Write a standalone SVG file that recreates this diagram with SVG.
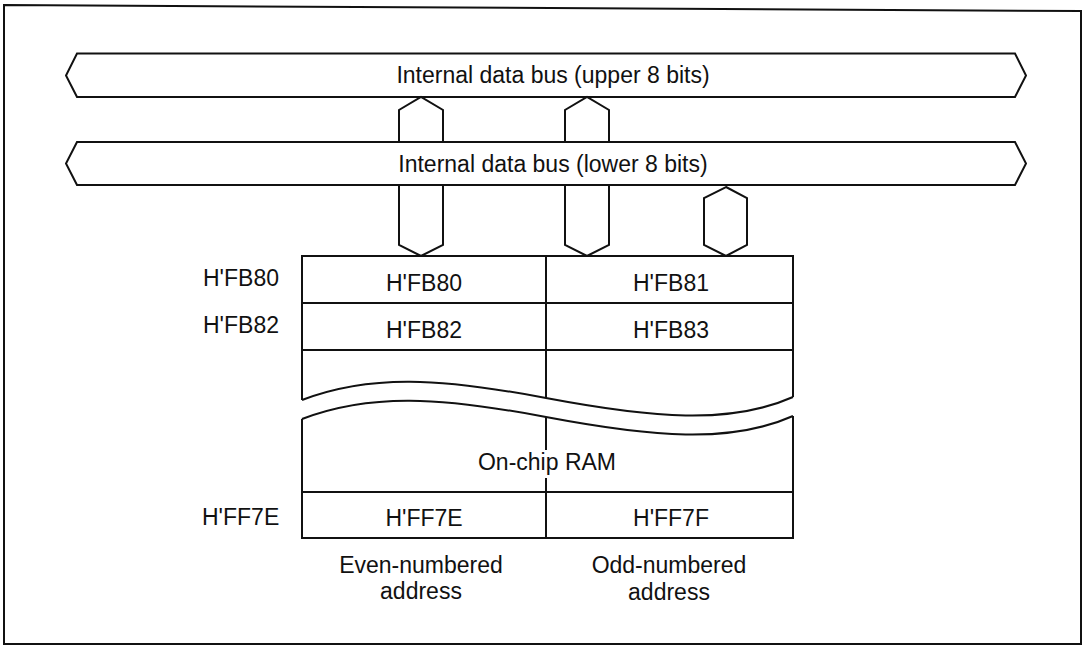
<svg xmlns="http://www.w3.org/2000/svg" width="1082" height="646" viewBox="0 0 1082 646">
<style>
.ln{fill:none;stroke:#111;stroke-width:2;stroke-linejoin:miter}
.bus{fill:#fff;stroke:#111;stroke-width:2}
.t{font-family:"Liberation Sans",Arial,sans-serif;font-size:23px;fill:#111}
.c{text-anchor:middle}
</style>
<rect width="1082" height="646" fill="#fff"/>
<path class="ln" d="M4,5 L1081,11 L1081,644 L4,644 Z"/>
<g id="bus-upper">
<path class="bus" d="M77,53.5 L1015,53.5 L1026,75.5 L1015,97 L77,97 L66,75.5 Z"/>
<text class="t c" x="553" y="83">Internal data bus (upper 8 bits)</text>
</g>
<g id="bus-lower">
<path class="bus" d="M77,142 L1015,142 L1026,163.5 L1015,185 L77,185 L66,163.5 Z"/>
<text class="t c" x="553" y="172">Internal data bus (lower 8 bits)</text>
</g>
<g id="connectors">
<path class="ln" d="M399,142 L399,110 L421,97 L443,110 L443,142"/>
<path class="ln" d="M565,142 L565,110 L587,97 L609,110 L609,142"/>
<path class="ln" d="M399,185 L399,245 L421,256 L443,245 L443,185"/>
<path class="ln" d="M565,185 L565,245 L587,256 L609,245 L609,185"/>
<path class="ln" d="M726,187 L747,198 L747,245 L726,256 L704,245 L704,198 Z"/>
</g>
<g id="ram">
<path class="ln" d="M302,400 L302,256 L793,256 L793,397"/>
<path class="ln" d="M302,400 C370,374 440,378 546,398 S730,425 793,397"/>
<path class="ln" d="M302,419 C370,393 440,397 546,417 S730,444 793,416"/>
<path class="ln" d="M302,419 L302,538 L793,538 L793,416"/>
<path class="ln" d="M302,303 L793,303 M302,350 L793,350 M302,492 L793,492"/>
<path class="ln" d="M546,256 L546,398 M546,417 L546,450 M546,478 L546,538"/>
<text class="t c" x="424" y="291">H'FB80</text>
<text class="t c" x="671" y="291">H'FB81</text>
<text class="t c" x="424" y="338">H'FB82</text>
<text class="t c" x="671" y="338">H'FB83</text>
<text class="t c" x="547" y="470">On-chip RAM</text>
<text class="t c" x="424" y="526">H'FF7E</text>
<text class="t c" x="671" y="526">H'FF7F</text>
</g>
<g id="addr-labels">
<text class="t" x="203" y="286">H'FB80</text>
<text class="t" x="203" y="333">H'FB82</text>
<text class="t" x="202" y="525">H'FF7E</text>
</g>
<g id="col-labels">
<text class="t c" x="421" y="573">Even-numbered</text>
<text class="t c" x="421" y="599">address</text>
<text class="t c" x="669" y="573">Odd-numbered</text>
<text class="t c" x="669" y="600">address</text>
</g>
</svg>
